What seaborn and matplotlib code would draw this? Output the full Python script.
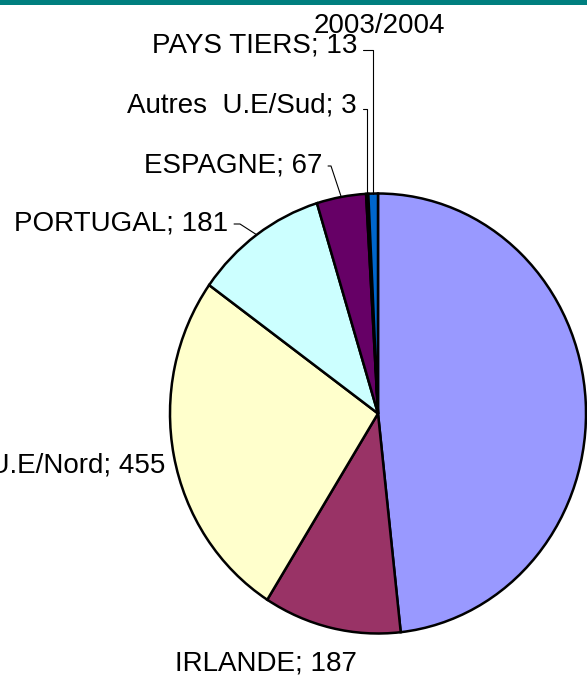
import matplotlib

matplotlib.use('Agg')
import matplotlib.pyplot as plt
import numpy as np
import seaborn as sns
from matplotlib.patches import Rectangle

# data (first slice has no visible label)
categories = ['', 'IRLANDE', 'Autres  U.E/Nord', 'PORTUGAL', 'ESPAGNE',
              'Autres  U.E/Sud', 'PAYS TIERS']
values = [845, 187, 455, 181, 67, 3, 13]
colors = ['#9999FF', '#993366', '#FFFFCC', '#CCFFFF', '#660066', '#FF8080', '#0066CC']
title = '2003/2004'

sns.set_style('white')
plt.rcParams['font.family'] = ['Liberation Sans', 'DejaVu Sans']
plt.rcParams['text.color'] = 'black'

W, H = 587, 678
fig = plt.figure(figsize=(W / 100, H / 100), dpi=100)
ax = fig.add_axes([0, 0, 1, 1])

# pie centre / radii in pixels (the pie is slightly taller than wide)
cx, cy, rx, ry = 378, 413.5, 208, 220

wedges, _ = ax.pie(values, colors=colors, startangle=90, counterclock=False,
                   wedgeprops=dict(edgecolor='black', linewidth=1.8))
ax.set_aspect('auto')
ax.set_xlim(-cx / rx, (W - cx) / rx)
ax.set_ylim(-(H - cy) / ry, cy / ry)
ax.axis('off')


def px(x, y):
    # pixel position (origin top-left) -> data coords
    return (x - cx) / rx, (cy - y) / ry


def edge_point(w):
    a = np.deg2rad((w.theta1 + w.theta2) / 2)
    return np.cos(a), np.sin(a)


fs = 20
# labels: (index, right x, baseline y, connection style, relpos y)
leaders = [
    (6, 357, 53, 'angle,angleA=0,angleB=90,rad=0', 0.35),
    (5, 357, 112, 'angle,angleA=0,angleB=90,rad=0', 0.35),
    (4, 322, 173, 'arc,angleA=0,armA=9,angleB=0,armB=0,rad=0', 0.5),
    (3, 228, 231, 'arc,angleA=0,armA=12,angleB=0,armB=0,rad=0', 0.5),
]
for i, x, y, cs, rel in leaders:
    ax.annotate('{}; {}'.format(categories[i], values[i]),
                xy=edge_point(wedges[i]), xytext=px(x, y),
                ha='right', va='baseline', fontsize=fs, color='black',
                annotation_clip=False,
                arrowprops=dict(arrowstyle='-', color='black', lw=0.8,
                                connectionstyle=cs, relpos=(1, rel),
                                shrinkA=2, shrinkB=0))

# this label runs off the left edge, as in the original crop
ax.text(*px(165, 473), '{}; {}'.format(categories[2], values[2]),
        ha='right', va='baseline', fontsize=fs, color='black', clip_on=False)
ax.text(*px(266, 671), '{}; {}'.format(categories[1], values[1]),
        ha='center', va='baseline', fontsize=fs, color='black', clip_on=False)
ax.text(*px(379, 33), title, ha='center', va='baseline', fontsize=fs,
        color='black', clip_on=False)

fig.add_artist(Rectangle((0, 1 - 5 / H), 1, 5 / H, transform=fig.transFigure,
                         color='#007F7F', lw=0))

plt.savefig('out.png', dpi=100)
plt.close()
